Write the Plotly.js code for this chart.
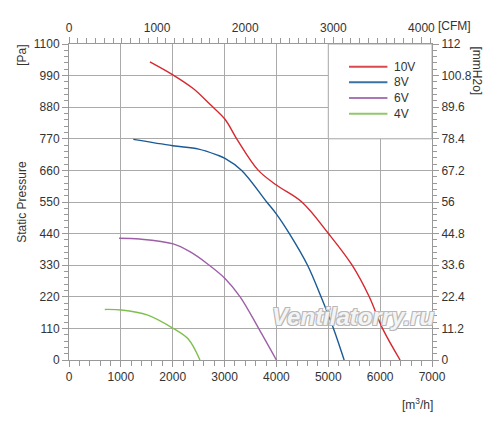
<!DOCTYPE html>
<html>
<head>
<meta charset="utf-8">
<script src="https://cdn.plot.ly/plotly-3.0.1.min.js"></script>
<style>html,body{margin:0;padding:0;background:#fff;}#chart{width:500px;height:430px;}</style>
</head>
<body>
<div id="chart"></div>
<script>
// Airflow (m3/h) and static pressure (Pa)
var flow10V = [1560, 2010, 2395, 2718, 3008, 3234, 3652, 4000, 4490, 5000, 5460, 5790, 6045, 6385];
var pres10V = [1038, 992, 945, 890, 838, 770, 660, 609, 550, 441, 330, 220, 110, 0];
var flow8V = [1240, 2000, 2500, 2850, 3008, 3330, 3813, 4000, 4250, 4600, 4860, 5100, 5306];
var pres8V = [768, 746, 734, 714, 702, 660, 550, 508, 440, 330, 220, 110, 0];
var flow6V = [966, 1366, 2009, 2331, 2654, 3008, 3300, 3651, 4000];
var pres6V = [424, 421, 404, 377, 337, 284, 220, 112, 0];
var flow4V = [690, 1012, 1507, 2009, 2299, 2525];
var pres4V = [176, 174, 157, 110, 73, 0];
var seriesNames = ['10V', '8V', '6V', '4V'];
var pressureTicks = [0, 110, 220, 330, 440, 550, 660, 770, 880, 990, 1100];
var mmH2OTicks = [0, 11.2, 22.4, 33.6, 44.8, 56, 67.2, 78.4, 89.6, 100.8, 112];
var mmH2OLabels = ['0', '11.2', '22.4', '33.6', '44.8', '56', '67.2', '78.4', '89.6', '100.8', '112'];
var flowTicks = [0, 1000, 2000, 3000, 4000, 5000, 6000, 7000];
var cfmTicks = [0, 1000, 2000, 3000, 4000];

var colors = ['#d6282e', '#1a5a96', '#9d5fa8', '#7fbf4d'];
var flows = [flow10V, flow8V, flow6V, flow4V];
var pres = [pres10V, pres8V, pres6V, pres4V];
var FONT = 'Liberation Sans, Arial, sans-serif';

var traces = seriesNames.map(function (n, i) {
  return {
    x: flows[i], y: pres[i], name: n, type: 'scatter', mode: 'lines',
    line: {color: colors[i], width: 1.4, shape: 'spline', smoothing: 1.0},
    showlegend: false
  };
});
// dummy trace to carry the secondary axes
traces.push({x: [0], y: [0], xaxis: 'x2', yaxis: 'y2', mode: 'markers',
  marker: {opacity: 0}, showlegend: false, hoverinfo: 'skip'});

var tickFont = {family: FONT, size: 12, color: '#333'};
var axisCol = '#999';
var gridCol = '#aaaaaa';

var shapes = [
  {type: 'rect', xref: 'x', yref: 'y', x0: 5000, x1: 7000, y0: 770, y1: 1100,
    layer: 'between', fillcolor: '#fff', line: {color: gridCol, width: 1}}
];
var annotations = [
  {text: 'Static Pressure', xref: 'paper', yref: 'paper', x: -0.13, y: 0.5,
    xanchor: 'center', yanchor: 'middle', textangle: -90, showarrow: false,
    font: {family: FONT, size: 12, color: '#333'}},
  {text: '[Pa]', xref: 'paper', yref: 'paper', x: -0.13, y: 0.965,
    xanchor: 'center', yanchor: 'middle', textangle: -90, showarrow: false,
    font: {family: FONT, size: 12, color: '#333'}},
  {text: '[mmH2o]', xref: 'paper', yref: 'paper', x: 1.125, y: 0.915,
    xanchor: 'center', yanchor: 'middle', textangle: 90, showarrow: false,
    font: {family: FONT, size: 12, color: '#333'}},
  {text: '[CFM]', xref: 'paper', yref: 'paper', x: 1.01, y: 1.058,
    xanchor: 'left', yanchor: 'middle', showarrow: false,
    font: {family: FONT, size: 12, color: '#333'}},
  {text: '[m<sup>3</sup>/h]', xref: 'paper', yref: 'paper', x: 0.96, y: -0.14,
    xanchor: 'center', yanchor: 'middle', showarrow: false,
    font: {family: FONT, size: 12, color: '#333'}},
  {text: 'Ventilatorry.ru', xref: 'paper', yref: 'paper', x: 0.785, y: 0.138,
    xanchor: 'center', yanchor: 'middle', showarrow: false,
    font: {family: FONT, size: 24, color: '#f4f4f4', weight: 'bold', style: 'italic',
      shadow: '1px 1px 0 #b8b8b8, -1px -1px 0 #b8b8b8, 1px -1px 0 #b8b8b8, -1px 1px 0 #b8b8b8'}}
];
// hand-built legend (row spacing matches the reference)
var legendRows = [1021, 967, 912, 857];
seriesNames.forEach(function (n, i) {
  shapes.push({type: 'line', xref: 'x', yref: 'y', x0: 5400, x1: 6140,
    y0: legendRows[i], y1: legendRows[i], layer: 'above', opacity: 0.85,
    line: {color: colors[i], width: 2}});
  annotations.push({text: n, xref: 'x', yref: 'y', x: 6230, y: legendRows[i],
    xanchor: 'left', yanchor: 'middle', showarrow: false,
    font: {family: FONT, size: 12, color: '#333'}});
});

var layout = {
  width: 500, height: 430,
  margin: {l: 69, r: 68, t: 44, b: 70},
  paper_bgcolor: '#fff', plot_bgcolor: '#fff',
  showlegend: false,
  xaxis: {range: [0, 7000], tickvals: flowTicks, ticks: 'outside', ticklen: 6,
    tickcolor: axisCol, showline: true, linecolor: axisCol, linewidth: 1,
    showgrid: true, gridcolor: gridCol, gridwidth: 1, zeroline: false,
    tickfont: tickFont, fixedrange: true,
    minor: {dtick: 200, ticks: 'outside', ticklen: 5, tickcolor: axisCol, showgrid: false}},
  xaxis2: {overlaying: 'x', side: 'top', range: [0, 7000 / 1.699], tickvals: cfmTicks,
    ticks: 'outside', ticklen: 6, tickcolor: axisCol, showline: true, linecolor: axisCol,
    showgrid: false, zeroline: false, tickfont: tickFont, fixedrange: true,
    minor: {dtick: 100, ticks: 'outside', ticklen: 5, tickcolor: axisCol}},
  yaxis: {range: [0, 1100], tickvals: pressureTicks, ticks: 'outside', ticklen: 6,
    tickcolor: axisCol, showline: true, linecolor: axisCol, showgrid: true,
    gridcolor: gridCol, gridwidth: 1, zeroline: false, tickfont: tickFont, fixedrange: true,
    minor: {dtick: 22, ticks: 'outside', ticklen: 4, tickcolor: axisCol, showgrid: false}},
  yaxis2: {overlaying: 'y', side: 'right', range: [0, 112], tickvals: mmH2OTicks,
    ticktext: mmH2OLabels, ticks: 'outside', ticklen: 6, tickcolor: axisCol,
    showline: true, linecolor: axisCol, showgrid: false, zeroline: false,
    tickfont: tickFont, fixedrange: true,
    minor: {dtick: 2.24, ticks: 'outside', ticklen: 4, tickcolor: axisCol}},
  shapes: shapes,
  annotations: annotations
};

Plotly.newPlot('chart', traces, layout, {staticPlot: true, displayModeBar: false});
</script>
</body>
</html>
